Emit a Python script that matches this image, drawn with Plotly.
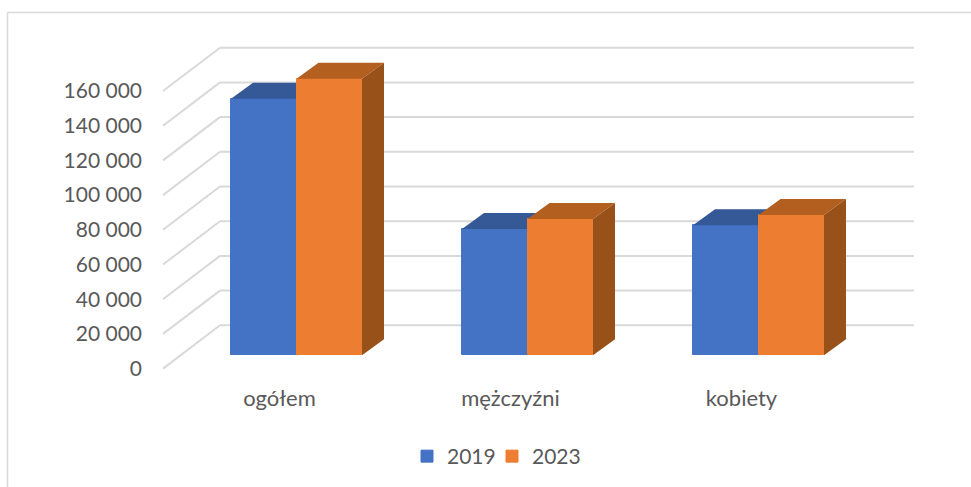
import plotly.graph_objects as go

categories = ["ogółem", "mężczyźni", "kobiety"]
series_2019 = [147800, 72800, 75000]
series_2023 = [159400, 78600, 80800]
y_ticks = [0, 20000, 40000, 60000, 80000, 100000, 120000, 140000, 160000]
y_labels = ["0", "20 000", "40 000", "60 000", "80 000", "100 000", "120 000", "140 000", "160 000"]

W, H = 971, 487
PX_X = 231.0            # pixels per category
PX_Y = 20000 / 34.7     # value units per pixel
X0_PX, Y0_PX = 296.5, 368.6

X_RANGE = [-X0_PX / PX_X, (W - X0_PX) / PX_X]
Y_RANGE = [-(H - Y0_PX) * PX_Y, Y0_PX * PX_Y]

BAR_W = 65.5 / PX_X
BAR_BASE = 13.3 * PX_Y
DEPTH_X = 22 / PX_X
DEPTH_Y = 16 * PX_Y
WALL_FRONT = (163 - X0_PX) / PX_X
WALL_BACK = (220 - X0_PX) / PX_X
WALL_RIGHT = (914 - X0_PX) / PX_X
WALL_DY = 43.3 * PX_Y
xs = list(range(len(categories)))
label_x = [x - 17 / PX_X for x in xs]

FONT = "Lato, Carlito, Calibri, sans-serif"
TEXT = "#595959"
SIZE = 21
SIZE_X = 22


def faces(values, offset):
    tx, ty, sx, sy = [], [], [], []
    for x, v in zip(xs, values):
        l = x + offset
        r = l + BAR_W
        top = BAR_BASE + v
        tx += [l, r, r + DEPTH_X, l + DEPTH_X, l, None]
        ty += [top, top, top + DEPTH_Y, top + DEPTH_Y, top, None]
        sx += [r, r + DEPTH_X, r + DEPTH_X, r, r, None]
        sy += [BAR_BASE, BAR_BASE + DEPTH_Y, top + DEPTH_Y, top, BAR_BASE, None]
    return tx, ty, sx, sy


def add_series(fig, name, values, offset, front, top_c, side_c, xa, ya, legend):
    fig.add_trace(go.Bar(
        x=xs, y=values, base=BAR_BASE, width=BAR_W, offset=offset, name=name,
        marker=dict(color=front, line=dict(color=front, width=1)), legend=legend,
        xaxis=xa, yaxis=ya, hoverinfo="skip"))
    tx, ty, sx, sy = faces(values, offset)
    for px, py, c in ((tx, ty, top_c), (sx, sy, side_c)):
        fig.add_trace(go.Scatter(
            x=px, y=py, mode="lines", fill="toself", fillcolor=c,
            line=dict(width=0, color=c), showlegend=False, hoverinfo="skip",
            xaxis=xa, yaxis=ya))


fig = go.Figure()
add_series(fig, "2019", series_2019, -BAR_W, "#4472c4", "#355896", "#2f4f88", "x", "y", "legend")
add_series(fig, "2023", series_2023, 0, "#ed7d31", "#b25f20", "#975119", "x2", "y2", "legend2")

shapes = []
grid = dict(color="#d9d9d9", width=2)
for t in y_ticks:
    shapes.append(dict(type="line", xref="x", yref="y", layer="below", line=grid,
                       x0=WALL_FRONT, y0=t, x1=WALL_BACK, y1=t + WALL_DY))
    shapes.append(dict(type="line", xref="x", yref="y", layer="below", line=grid,
                       x0=WALL_BACK, y0=t + WALL_DY, x1=WALL_RIGHT, y1=t + WALL_DY))
# outer chart frame
frame = dict(color="#d9d9d9", width=1.5)
shapes.append(dict(type="line", xref="paper", yref="paper", line=frame, layer="below",
                   x0=7.5 / W, x1=1, y0=1 - 12.5 / H, y1=1 - 12.5 / H))
shapes.append(dict(type="line", xref="paper", yref="paper", line=frame, layer="below",
                   x0=7.5 / W, x1=7.5 / W, y0=0, y1=1 - 12.5 / H))

legend_common = dict(orientation="h", xanchor="left", yanchor="top",
                     font=dict(family=FONT, size=SIZE, color=TEXT), bgcolor="rgba(0,0,0,0)",
                     itemclick=False, itemdoubleclick=False)

fig.update_layout(
    width=W, height=H, margin=dict(l=0, r=0, t=0, b=0),
    paper_bgcolor="white", plot_bgcolor="white",
    font=dict(family=FONT, size=SIZE, color=TEXT),
    shapes=shapes, bargap=0,
    legend=dict(x=407 / W, y=1 - 436 / H, **legend_common),
    legend2=dict(x=492 / W, y=1 - 436 / H, **legend_common),
    xaxis=dict(range=X_RANGE, tickmode="array", tickvals=label_x, ticktext=categories,
               showgrid=False, zeroline=False, showline=False, ticks="",
               anchor="free", position=1 - 383 / H, domain=[0, 1],
               tickfont=dict(family=FONT, size=SIZE_X, color=TEXT)),
    yaxis=dict(range=Y_RANGE, tickmode="array", tickvals=y_ticks, ticktext=y_labels,
               showgrid=False, zeroline=False, showline=False, ticks="",
               anchor="free", position=142 / W, domain=[0, 1],
               tickfont=dict(family=FONT, size=SIZE, color=TEXT)),
    xaxis2=dict(overlaying="x", matches="x", visible=False, range=X_RANGE),
    yaxis2=dict(overlaying="y", matches="y", visible=False, range=Y_RANGE),
)

fig.write_html("out.html", config=dict(displayModeBar=False),
               post_script="document.body.style.margin='0';")
